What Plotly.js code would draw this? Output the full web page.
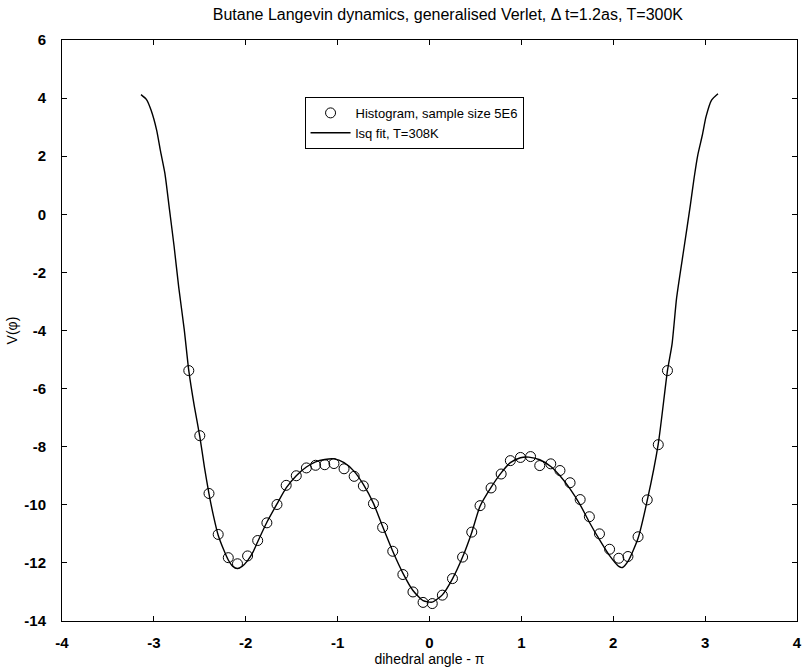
<!DOCTYPE html>
<html>
<head>
<meta charset="utf-8">
<script src="https://cdn.plot.ly/plotly-3.0.1.min.js"></script>
<style>
  html, body { margin: 0; padding: 0; background: #fff; }
  #plot { width: 802px; height: 670px; }
</style>
</head>
<body>
<div id="plot"></div>
<script>
// Histogram of sampled dihedral angles, expressed as V = -kT ln P
const histAngle = [-2.62, -2.50, -2.40, -2.30, -2.19, -2.09, -1.98, -1.87, -1.77, -1.66,
                   -1.56, -1.45, -1.34, -1.24, -1.14, -1.04, -0.93, -0.82, -0.72, -0.61,
                   -0.51, -0.40, -0.29, -0.18, -0.07, 0.03, 0.14, 0.25, 0.36, 0.46,
                   0.55, 0.67, 0.78, 0.88, 0.99, 1.10, 1.20, 1.32, 1.42, 1.53,
                   1.64, 1.74, 1.85, 1.96, 2.06, 2.16, 2.27, 2.37, 2.49, 2.59];
const histV = [-5.38, -7.62, -9.61, -11.02, -11.82, -12.03, -11.76, -11.23, -10.62, -9.99,
               -9.33, -9.00, -8.73, -8.64, -8.62, -8.58, -8.76, -9.02, -9.35, -9.96,
               -10.78, -11.60, -12.40, -13.00, -13.36, -13.40, -13.11, -12.54, -11.80, -10.94,
               -10.03, -9.42, -8.94, -8.48, -8.37, -8.34, -8.65, -8.59, -8.82, -9.24,
               -9.82, -10.41, -11.00, -11.53, -11.84, -11.78, -11.10, -9.83, -7.93, -5.38];

// Least-squares fitted torsion potential, sampled along the angle
const fitAngle = [-3.14, -3.08, -3.03, -2.97, -2.93, -2.88, -2.83, -2.78, -2.73, -2.67,
                  -2.62, -2.56, -2.50, -2.45, -2.40, -2.35, -2.30, -2.24, -2.19, -2.14,
                  -2.09, -2.04, -1.98, -1.92, -1.87, -1.77, -1.66, -1.56, -1.45, -1.34,
                  -1.24, -1.14, -1.04, -0.93, -0.82, -0.72, -0.61, -0.51, -0.40, -0.29,
                  -0.18, -0.07, 0.03, 0.14, 0.25, 0.36, 0.46, 0.55, 0.67, 0.78,
                  0.88, 0.99, 1.08, 1.20, 1.32, 1.42, 1.53, 1.64, 1.74, 1.85,
                  1.96, 2.06, 2.10, 2.16, 2.27, 2.37, 2.49, 2.59, 2.64, 2.69,
                  2.77, 2.84, 2.88, 2.92, 2.97, 3.01, 3.07, 3.14];
const fitV = [4.12, 3.95, 3.58, 2.90, 2.21, 1.41, 0.16, -1.10, -2.50, -3.95,
              -5.38, -6.60, -7.65, -8.70, -9.62, -10.40, -11.05, -11.55, -11.90, -12.12,
              -12.19, -12.12, -11.92, -11.62, -11.27, -10.60, -9.97, -9.42, -9.00, -8.70,
              -8.52, -8.44, -8.42, -8.55, -8.85, -9.30, -9.95, -10.75, -11.60, -12.35,
              -12.95, -13.30, -13.35, -13.10, -12.55, -11.80, -10.95, -10.05, -9.40, -8.90,
              -8.55, -8.38, -8.36, -8.45, -8.68, -9.00, -9.45, -10.00, -10.60, -11.20,
              -11.75, -12.12, -12.16, -11.95, -11.15, -9.85, -7.90, -5.38, -4.47, -2.87,
              -1.16, 0.33, 1.25, 2.04, 2.73, 3.36, 3.93, 4.15];

const xTicks = [-4, -3, -2, -1, 0, 1, 2, 3, 4];
const yTicks = [-14, -12, -10, -8, -6, -4, -2, 0, 2, 4, 6];

const FONT = 'Liberation Sans, Arial, Helvetica, sans-serif';
const bold = v => '<b>' + v + '</b>';

const traces = [
  {
    x: histAngle, y: histV,
    type: 'scatter', mode: 'markers',
    name: 'Histogram, sample size 5E6',
    marker: { symbol: 'circle-open', size: 10, color: '#000', line: { width: 1, color: '#000' } }
  },
  {
    x: fitAngle, y: fitV,
    type: 'scatter', mode: 'lines',
    name: 'lsq fit, T=308K',
    line: { color: '#000', width: 1.4, shape: 'spline', smoothing: 0.6 }
  }
];

const axisCommon = {
  showgrid: false, zeroline: false,
  showline: true, linecolor: '#000', linewidth: 1,
  mirror: 'ticks', ticks: 'inside', ticklen: 5, tickwidth: 1, tickcolor: '#000',
  tickfont: { family: FONT, size: 15, color: '#000' }
};

const layout = {
  width: 802, height: 670,
  paper_bgcolor: '#fff', plot_bgcolor: '#fff',
  margin: { l: 62, r: 5, t: 40, b: 49 },
  showlegend: true,
  title: {
    text: 'Butane Langevin dynamics, generalised Verlet, Δ t=1.2as, T=300K',
    font: { family: FONT, size: 16, color: '#000' },
    x: 0.525, xref: 'paper', xanchor: 'center',
    y: 0.979, yref: 'container', yanchor: 'middle'
  },
  xaxis: Object.assign({}, axisCommon, {
    range: [-4, 4], tickvals: xTicks, ticktext: xTicks.map(bold),
    ticklabelstandoff: 8,
    title: { text: 'dihedral angle - π', font: { family: FONT, size: 14, color: '#000' }, standoff: 3 }
  }),
  yaxis: Object.assign({}, axisCommon, {
    range: [-14, 6], tickvals: yTicks, ticktext: yTicks.map(bold),
    ticklabelstandoff: 12,
    title: { text: 'V(φ)', font: { family: FONT, size: 14, color: '#000' }, standoff: 3 }
  }),
  legend: {
    x: 0.33, y: 0.902, xanchor: 'left', yanchor: 'top',
    bgcolor: '#fff', bordercolor: '#000', borderwidth: 1,
    font: { family: FONT, size: 13, color: '#000' },
    tracegroupgap: 0, itemwidth: 40
  }
};

Plotly.newPlot('plot', traces, layout, { staticPlot: true, displayModeBar: false });
</script>
</body>
</html>
